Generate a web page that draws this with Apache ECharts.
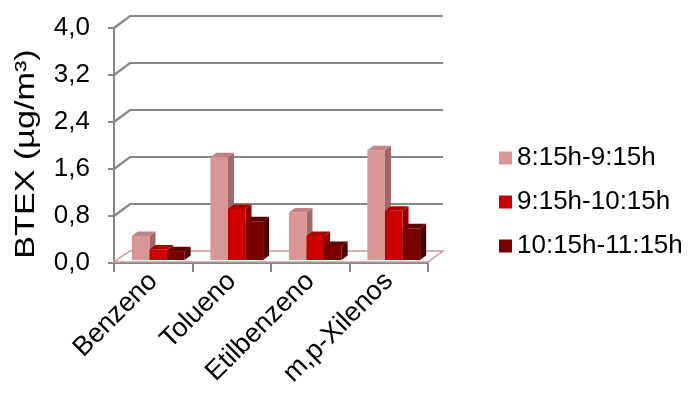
<!DOCTYPE html>
<html>
<head>
<meta charset="utf-8">
<script src="https://cdn.jsdelivr.net/npm/echarts@6/dist/echarts.min.js"></script>
<style>
  html, body { margin: 0; padding: 0; background: #fff; }
  #chart { width: 688px; height: 396px; }
</style>
</head>
<body>
<div id="chart"></div>
<script>
// BTEX concentrations per compound and sampling interval
const categories = ['Benzeno', 'Tolueno', 'Etilbenzeno', 'm,p-Xilenos'];
const seriesNames = ['8:15h-9:15h', '9:15h-10:15h', '10:15h-11:15h'];
const interval1 = [0.41, 1.75, 0.81, 1.87];
const interval2 = [0.18, 0.87, 0.41, 0.84];
const interval3 = [0.15, 0.66, 0.24, 0.54];
const yTicks = [0, 0.8, 1.6, 2.4, 3.2, 4.0];

// Pseudo-3D geometry (screen pixels)
const WALL_DX = 16, WALL_DY = -12;   // back wall offset
const FLOOR_DX = 4, FLOOR_DY = -3;   // where bars stand on the floor
const BAR_DX = 6, BAR_DY = -4.5;     // bar depth
const FONT = 'Liberation Sans, Arial, sans-serif';
const GRID_GRAY = '#868686';

const palettes = [
  { front: '#d99694', side: '#9e6867', top: '#c08483' },
  { front: '#cc0000', side: '#8c0000', top: '#ad0000' },
  { front: '#7a0000', side: '#4a0000', top: '#600000' }
];

function barRenderer(k) {
  const pal = palettes[k];
  return function (params, api) {
    const ci = api.value(0);
    const v = api.value(1);
    const base = api.coord([ci, 0]);
    const top = api.coord([ci, v]);
    const band = api.size([1, 0])[0];
    const w = band * 0.224;
    const x0 = base[0] - 1.5 * w + k * w + FLOOR_DX + 1;
    const x1 = x0 + w;
    const yb = base[1] + FLOOR_DY;
    const yt = top[1] + FLOOR_DY;
    return {
      type: 'group',
      children: [
        { type: 'polygon', shape: { points: [[x1, yb], [x1 + BAR_DX, yb + BAR_DY], [x1 + BAR_DX, yt + BAR_DY], [x1, yt]] },
          style: { fill: pal.side } },
        { type: 'polygon', shape: { points: [[x0, yt], [x1, yt], [x1 + BAR_DX, yt + BAR_DY], [x0 + BAR_DX, yt + BAR_DY]] },
          style: { fill: pal.top } },
        { type: 'rect', shape: { x: x0, y: yt, width: w, height: yb - yt },
          style: { fill: pal.front } }
      ]
    };
  };
}

function wallRenderer(params, api) {
  const cs = params.coordSys;
  const v = api.value(1);
  const y = api.coord([0, v])[1];
  const xl = cs.x, xr = cs.x + cs.width;
  if (v === 0) {
    // floor
    return {
      type: 'polygon',
      shape: { points: [[xl, y - 1], [xr, y - 1], [xr + WALL_DX - 1, y + WALL_DY], [xl + WALL_DX, y + WALL_DY]] },
      style: { fill: '#ffffff', stroke: '#c99a9a', lineWidth: 1.5 }
    };
  }
  return {
    type: 'polyline',
    shape: { points: [[xl, y], [xl + WALL_DX, y + WALL_DY], [xr + WALL_DX - 1, y + WALL_DY]] },
    style: { fill: null, stroke: GRID_GRAY, lineWidth: 2.2 }
  };
}

const series = [
  {
    type: 'custom',
    name: 'walls',
    renderItem: wallRenderer,
    data: yTicks.map(v => [0, v]),
    silent: true,
    z: 1
  }
];
[interval1, interval2, interval3].forEach((vals, k) => {
  series.push({
    type: 'custom',
    name: seriesNames[k],
    renderItem: barRenderer(k),
    itemStyle: { color: palettes[k].front },
    data: vals.map((v, i) => [i, v]),
    z: 2 + k
  });
});

const chart = echarts.init(document.getElementById('chart'), null, { renderer: 'canvas' });
chart.setOption({
  animation: false,
  backgroundColor: '#ffffff',
  grid: { left: 114, right: 260, top: 28, bottom: 133, containLabel: false },
  xAxis: {
    type: 'category',
    data: categories,
    axisLine: { lineStyle: { color: GRID_GRAY, width: 2 } },
    axisTick: { show: true, length: 9, lineStyle: { color: GRID_GRAY, width: 2 } },
    axisLabel: { rotate: 45, interval: 0, margin: 14, color: '#000', fontSize: 27, fontFamily: FONT },
    splitLine: { show: false }
  },
  yAxis: {
    type: 'value',
    min: 0,
    max: 4,
    interval: 0.8,
    axisLine: { show: true, lineStyle: { color: GRID_GRAY, width: 2 } },
    axisTick: { show: true, length: 6, lineStyle: { color: GRID_GRAY, width: 2 } },
    axisLabel: {
      margin: 24, color: '#000', fontSize: 26, fontFamily: FONT,
      padding: [4, 0, 0, 0],
      formatter: v => v.toFixed(1).replace('.', ',')
    },
    splitLine: { show: false }
  },
  legend: {
    data: seriesNames,
    orient: 'vertical',
    left: 494,
    top: 140,
    icon: 'rect',
    itemWidth: 13,
    itemHeight: 13,
    itemGap: 18,
    textStyle: { color: '#000', fontSize: 26, lineHeight: 26, fontFamily: FONT }
  },
  graphic: [
    {
      type: 'text',
      x: 26,
      y: 154,
      rotation: Math.PI / 2,
      scaleX: 1.22,
      style: {
        text: 'BTEX (µg/m³)',
        font: '28px ' + FONT,
        fill: '#000',
        textAlign: 'center',
        textVerticalAlign: 'middle'
      }
    }
  ],
  series: series
});
</script>
</body>
</html>
